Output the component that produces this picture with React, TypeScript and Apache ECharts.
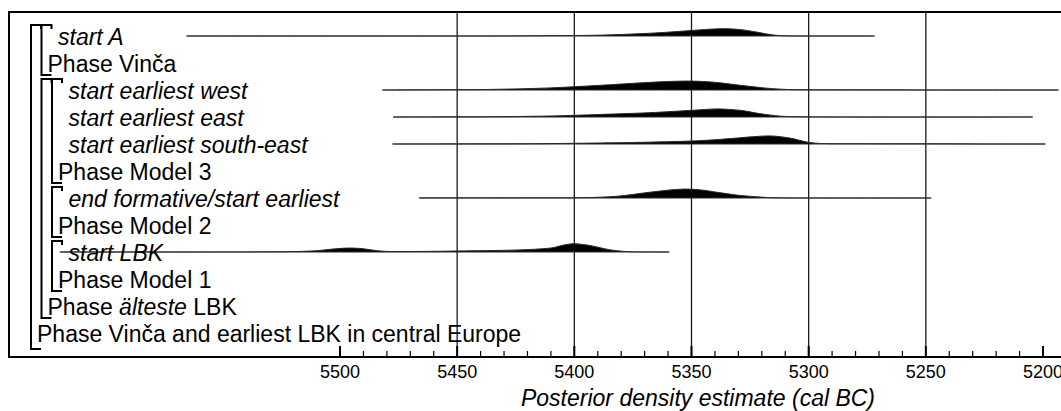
import React, { useEffect, useRef } from "react";
import * as echarts from "echarts";

// ---------------- data ----------------
const rowLabels = [
  "start A",
  "Phase Vinča",
  "start earliest west",
  "start earliest east",
  "start earliest south-east",
  "Phase Model 3",
  "end formative/start earliest",
  "Phase Model 2",
  "start LBK",
  "Phase Model 1",
  "Phase {i|älteste} LBK",
  "Phase Vinča and earliest LBK in central Europe",
];
const rowIsPhase = [false, true, false, false, false, true, false, true, false, true, true, true];
const rowDepth = [1, 1, 2, 2, 2, 2, 2, 2, 2, 2, 1, 0];

// [first row, last row, depth]
const brackets: [number, number, number][] = [
  [0, 11, 0],
  [0, 1, 1],
  [2, 10, 1],
  [2, 5, 2],
  [6, 7, 2],
  [8, 9, 2],
];

const tickYears = [5500, 5450, 5400, 5350, 5300, 5250, 5200];
const minorTickYears = [
  5490, 5480, 5470, 5460, 5440, 5430, 5420, 5410, 5390, 5380, 5370, 5360, 5340, 5330, 5320, 5310,
  5290, 5280, 5270, 5260, 5240, 5230, 5220, 5210,
];
const gridYears = [5450, 5400, 5350, 5300, 5250];

const startAYears = [5564, 5440, 5410, 5389, 5371, 5360, 5350, 5342, 5337, 5332, 5327, 5321, 5316, 5311, 5300, 5273];
const startADens = [0, 0, 0.04, 0.1, 0.28, 0.45, 0.65, 0.8, 0.86, 0.82, 0.68, 0.4, 0.15, 0.03, 0, 0];

const westYears = [5481, 5460, 5433, 5410, 5389, 5371, 5360, 5352, 5345, 5338, 5329, 5318, 5309, 5295, 5257, 5245, 5195];
const westDens = [0, 0.02, 0.08, 0.25, 0.55, 0.85, 1.0, 1.05, 1.0, 0.85, 0.55, 0.22, 0.06, 0.02, 0.01, 0, 0];

const eastYears = [5476, 5440, 5410, 5389, 5371, 5360, 5350, 5339, 5329, 5321, 5312, 5304, 5290, 5206];
const eastDens = [0, 0.02, 0.12, 0.3, 0.47, 0.62, 0.78, 0.95, 0.78, 0.4, 0.1, 0.03, 0, 0];

const southEastYears = [5476, 5420, 5389, 5371, 5350, 5340, 5332, 5324, 5316, 5308, 5301, 5295, 5280, 5240, 5225, 5200];
const southEastDens = [0, 0.03, 0.12, 0.2, 0.35, 0.5, 0.67, 0.85, 0.95, 0.7, 0.25, 0.06, 0.03, 0.02, 0, 0];

const formativeYears = [5465, 5420, 5396, 5382, 5368, 5360, 5353, 5346, 5339, 5330, 5325, 5316, 5300, 5249];
const formativeDens = [0, 0.02, 0.04, 0.2, 0.67, 0.92, 1.05, 0.95, 0.67, 0.32, 0.2, 0.04, 0, 0];

const lbkYears = [5618, 5540, 5520, 5510, 5503, 5496, 5490, 5484, 5478, 5460, 5450, 5424, 5410, 5404, 5400, 5393, 5385, 5377, 5370, 5360];
const lbkDens = [0, 0.01, 0.05, 0.15, 0.35, 0.47, 0.38, 0.15, 0.05, 0.08, 0.12, 0.24, 0.47, 0.85, 0.98, 0.75, 0.27, 0.04, 0.01, 0];

const distributions = [
  { row: 0, years: startAYears, dens: startADens },
  { row: 2, years: westYears, dens: westDens },
  { row: 3, years: eastYears, dens: eastDens },
  { row: 4, years: southEastYears, dens: southEastDens },
  { row: 6, years: formativeYears, dens: formativeDens },
  { row: 8, years: lbkYears, dens: lbkDens },
];

// ---------------- layout ----------------
const FONT = '"Liberation Sans", Arial, Helvetica, sans-serif';
const W = 1061;
const PPY = 703 / 300; // pixels per year
const GRID_LEFT = 9;
const GRID_TOP = 12;
const GRID_H = 345;
const GRID_W = W + 20 - GRID_LEFT;
const X_MAX = 5500 + (340 - GRID_LEFT) / PPY;
const X_MIN = X_MAX - GRID_W / PPY;
const ROW_STEP = 27;
const Y_MIN = -24 / ROW_STEP;
const Y_MAX = Y_MIN + GRID_H / ROW_STEP;
const PEAK = 8.5 / ROW_STEP;
const TEXT_SIZE = 23;

export default function App() {
  const ref = useRef<HTMLDivElement>(null);

  useEffect(() => {
    if (!ref.current) return;
    const chart = echarts.init(ref.current, null, { renderer: "svg" });

    const bracketX = (left: number, d: number) => left + 22 + 10.5 * d;
    const frameLine = { show: true, onZero: false, lineStyle: { color: "#000", width: 2 } };

    const option: any = {
      animation: false,
      backgroundColor: "#fff",
      grid: [
        {
          left: GRID_LEFT,
          top: GRID_TOP,
          width: GRID_W,
          height: GRID_H,
          show: false,
          outerBoundsMode: "none",
        },
      ],
      xAxis: [
        {
          type: "value",
          min: X_MIN,
          max: X_MAX,
          inverse: true,
          position: "bottom",
          axisLine: frameLine,
          axisTick: { show: false },
          axisLabel: { show: false },
          splitLine: { show: false },
        },
        {
          type: "value",
          min: X_MIN,
          max: X_MAX,
          inverse: true,
          position: "top",
          axisLine: frameLine,
          axisTick: { show: false },
          axisLabel: { show: false },
          splitLine: { show: false },
        },
      ],
      yAxis: [
        {
          type: "value",
          min: Y_MIN,
          max: Y_MAX,
          inverse: true,
          position: "left",
          axisLine: { show: false },
          axisTick: { show: false },
          axisLabel: { show: false },
          splitLine: { show: false },
        },
      ],
      graphic: [
        {
          type: "text",
          x: 698,
          y: 398,
          style: {
            text: "Posterior density estimate (cal BC)",
            fill: "#000",
            fontSize: TEXT_SIZE,
            fontStyle: "italic",
            fontFamily: FONT,
            align: "center",
            verticalAlign: "middle",
          },
        },
      ],
      series: [
        // left frame edge
        {
          type: "custom",
          clip: false,
          silent: true,
          data: [[X_MAX]],
          renderItem: (params: any, api: any) => {
            const a = api.coord([api.value(0), Y_MIN]);
            const b = api.coord([api.value(0), Y_MAX]);
            return {
              type: "line",
              shape: { x1: a[0], y1: a[1] - 1, x2: b[0], y2: b[1] + 1 },
              style: { stroke: "#000", lineWidth: 2 },
            };
          },
          z: 2,
        },
        // vertical grid lines
        {
          type: "custom",
          clip: false,
          silent: true,
          data: gridYears.map((v) => [v]),
          renderItem: (params: any, api: any) => {
            const a = api.coord([api.value(0), Y_MIN]);
            const b = api.coord([api.value(0), Y_MAX]);
            return {
              type: "line",
              shape: { x1: a[0], y1: a[1], x2: b[0], y2: b[1] },
              style: { stroke: "#1a1a1a", lineWidth: 1.3 },
            };
          },
          z: 2,
        },
        // posterior densities
        {
          type: "custom",
          clip: false,
          silent: true,
          data: distributions.map((d) => [d.years[0], d.row]),
          renderItem: (params: any, api: any) => {
            const d = distributions[params.dataIndex];
            const pts = d.years.map((y, j) => api.coord([y, d.row - d.dens[j] * PEAK]));
            return {
              type: "polygon",
              shape: { points: pts, smooth: 0.3 },
              style: { fill: "#000", stroke: "#2a2a2a", lineWidth: 1 },
            };
          },
          z: 3,
        },
        // major ticks + labels
        {
          type: "custom",
          clip: false,
          silent: true,
          data: tickYears.map((v) => [v, Y_MAX]),
          renderItem: (params: any, api: any) => {
            const v = api.value(0);
            const p = api.coord([v, api.value(1)]);
            return {
              type: "group",
              children: [
                {
                  type: "rect",
                  shape: { x: p[0] - 1, y: p[1] - 11, width: 2, height: 11 },
                  style: { fill: "#000" },
                },
                {
                  type: "text",
                  x: p[0],
                  y: p[1] + 6,
                  style: {
                    text: String(v),
                    fill: "#000",
                    fontSize: 18,
                    fontFamily: FONT,
                    align: "center",
                    verticalAlign: "top",
                  },
                },
              ],
            };
          },
          z: 4,
        },
        // minor ticks
        {
          type: "custom",
          clip: false,
          silent: true,
          data: minorTickYears.map((v) => [v, Y_MAX]),
          renderItem: (params: any, api: any) => {
            const p = api.coord([api.value(0), api.value(1)]);
            return {
              type: "rect",
              shape: { x: p[0] - 0.6, y: p[1] - 6, width: 1.2, height: 6 },
              style: { fill: "#000" },
            };
          },
          z: 4,
        },
        // phase brackets
        {
          type: "custom",
          clip: false,
          silent: true,
          data: brackets.map((b) => [X_MAX, b[0], b[1], b[2]]),
          renderItem: (params: any, api: any) => {
            const r0 = api.value(1);
            const r1 = api.value(2);
            const d = api.value(3);
            const p0 = api.coord([X_MAX, r0]);
            const p1 = api.coord([X_MAX, r1]);
            const bx = bracketX(p0[0], d);
            const top = p0[1] - 11;
            const bot = p1[1] + (d === 0 ? 16 : 12);
            return {
              type: "polyline",
              shape: {
                points: [
                  [bx + 10, top + 4],
                  [bx + 10, top],
                  [bx, top],
                  [bx, bot],
                  [bx + 10, bot],
                ],
              },
              style: { stroke: "#000", lineWidth: 2, fill: null },
            };
          },
          z: 5,
        },
        // row labels
        {
          type: "custom",
          clip: false,
          silent: true,
          data: rowLabels.map((_, i) => [X_MAX, i]),
          renderItem: (params: any, api: any) => {
            const i = params.dataIndex;
            const p = api.coord([X_MAX, api.value(1)]);
            const bx = bracketX(p[0], rowDepth[i]);
            const x = rowIsPhase[i] ? bx + 6 : bx + 16.5;
            return {
              type: "text",
              x,
              y: p[1] + 0.5,
              style: {
                text: rowLabels[i],
                fill: "#000",
                fontSize: TEXT_SIZE,
                fontFamily: FONT,
                fontStyle: rowIsPhase[i] ? "normal" : "italic",
                align: "left",
                verticalAlign: "middle",
                rich: {
                  i: { fontStyle: "italic", fontSize: TEXT_SIZE, fontFamily: FONT, fill: "#000" },
                },
              },
            };
          },
          z: 6,
        },
      ],
    };

    chart.setOption(option);
    return () => chart.dispose();
  }, []);

  return (
    <div
      ref={ref}
      style={{ position: "absolute", left: 0, top: 0, width: W, height: 411, background: "#fff" }}
    />
  );
}
